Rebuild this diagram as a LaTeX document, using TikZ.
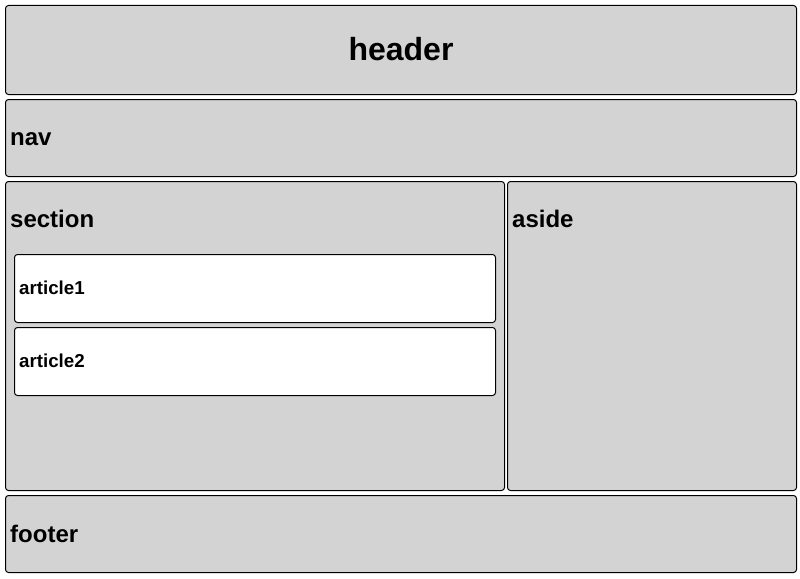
\documentclass[tikz,border=0pt]{standalone}
\usepackage{fontspec}
\setmainfont{Liberation Sans}
\begin{document}
\begin{tikzpicture}[x=1pt,y=-1pt,
  box/.style={draw=black,fill={rgb,255:red,211;green,211;blue,211},line width=1pt,rounded corners=3pt},
  artbox/.style={draw=black,fill=white,line width=1pt,rounded corners=3pt},
  lbl/.style={anchor=base west,inner sep=0pt,font=\bfseries\fontsize{24}{28}\selectfont},
  albl/.style={anchor=base west,inner sep=0pt,font=\bfseries\fontsize{18.72}{22}\selectfont}]
\useasboundingbox (0,0) rectangle (800,578);
\draw[box] (5.5,5.5) rectangle (796.5,94.5);
\node[anchor=base,inner sep=0pt,font=\bfseries\fontsize{32}{36}\selectfont] (header) at (401,60.5) {header};
\draw[box] (5.5,99.5) rectangle (796.5,176.5);
\node[lbl] (nav) at (10,145.5) {nav};
\draw[box] (5.5,181.5) rectangle (504.5,490.5);
\node[lbl] (section) at (10,227.5) {section};
\draw[box] (507.5,181.5) rectangle (796.5,490.5);
\node[lbl] (aside) at (512,227.5) {aside};
\draw[artbox] (14.5,254.5) rectangle (495.5,322.5);
\node[albl] (article1) at (19,294) {article1};
\draw[artbox] (14.5,327.5) rectangle (495.5,395.5);
\node[albl] (article2) at (19,367.7) {article2};
\draw[box] (5.5,495.5) rectangle (796.5,572.5);
\node[lbl] (footer) at (10,542.5) {footer};
\end{tikzpicture}
\end{document}
